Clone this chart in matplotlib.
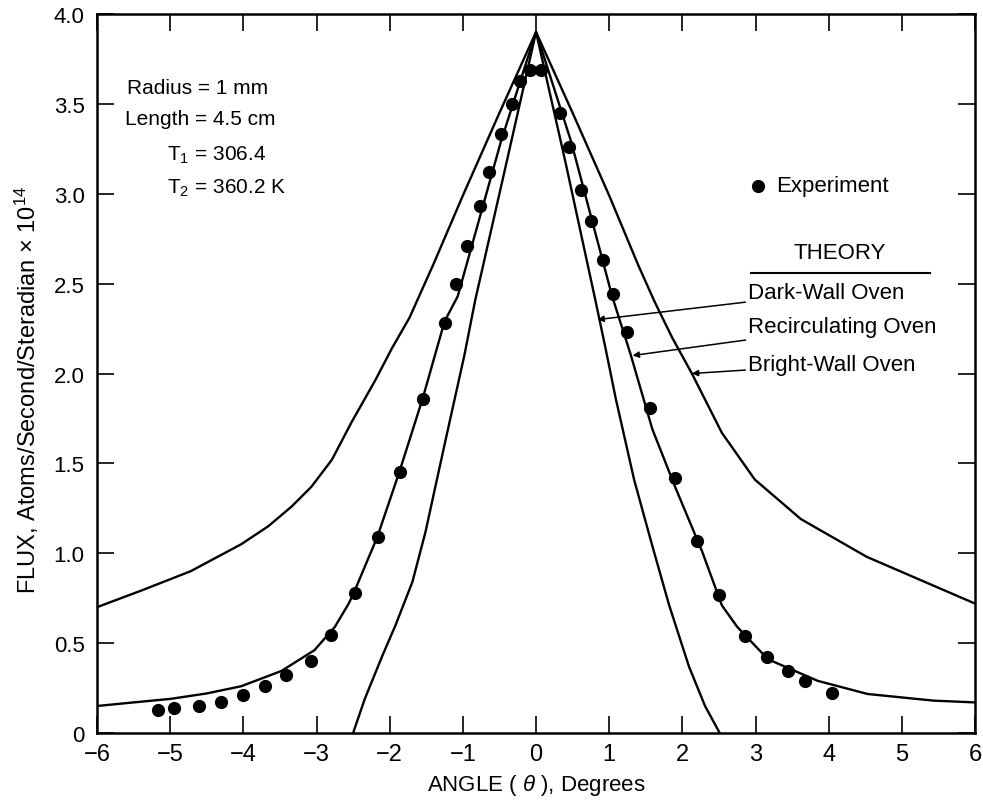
import numpy as np
import matplotlib
matplotlib.use('Agg')
import matplotlib.pyplot as plt

plt.rcParams['font.family'] = ['Liberation Sans', 'DejaVu Sans']
plt.rcParams['mathtext.fontset'] = 'custom'
plt.rcParams['mathtext.it'] = 'Liberation Sans:italic'
plt.rcParams['mathtext.rm'] = 'Liberation Sans'

# Experimental points (angle in degrees, flux x 1e14)
exp_x = [-5.16, -4.95, -4.61, -4.31, -4.00, -3.71, -3.42, -3.08, -2.80, -2.48,
         -2.16, -1.86, -1.54, -1.24, -1.09, -0.95, -0.76, -0.64, -0.48, -0.33,
         -0.22, -0.08, 0.07, 0.33, 0.45, 0.62, 0.75, 0.92, 1.05, 1.24,
         1.56, 1.90, 2.20, 2.50, 2.85, 3.15, 3.45, 3.67, 4.05]
exp_y = [0.13, 0.14, 0.15, 0.17, 0.21, 0.26, 0.32, 0.40, 0.545, 0.78,
         1.09, 1.45, 1.86, 2.28, 2.50, 2.71, 2.93, 3.12, 3.33, 3.50,
         3.63, 3.69, 3.69, 3.45, 3.26, 3.02, 2.85, 2.63, 2.44, 2.23,
         1.81, 1.42, 1.07, 0.77, 0.54, 0.42, 0.345, 0.29, 0.22]

# Theory curves
bright_x = [-6.0, -5.41, -4.72, -4.03, -3.66, -3.34, -3.07, -2.79, -2.52, -2.20, -1.97,
            -1.73, -1.40, -1.00, -0.50, 0.0,
            0.50, 1.00, 1.40, 1.62, 1.86, 2.13, 2.54, 2.99, 3.62, 4.52, 5.43, 6.0]
bright_y = [0.70, 0.79, 0.90, 1.05, 1.15, 1.26, 1.37, 1.52, 1.73, 1.96, 2.14,
            2.31, 2.61, 2.99, 3.45, 3.90,
            3.45, 2.99, 2.60, 2.40, 2.20, 2.00, 1.67, 1.41, 1.19, 0.98, 0.82, 0.72]

recirc_x = [-6.0, -5.5, -4.99, -4.5, -4.03, -3.48, -3.03, -2.75, -2.56, -2.49, -2.17, -1.87,
            -1.55, -1.25, -1.07, -0.48, 0.0,
            0.48, 1.04, 1.29, 1.59, 1.90, 2.27, 2.54, 2.75, 3.17, 3.85, 4.53, 5.43, 6.0]
recirc_y = [0.15, 0.17, 0.19, 0.22, 0.26, 0.345, 0.46, 0.59, 0.72, 0.78, 1.09, 1.45,
            1.86, 2.29, 2.43, 3.29, 3.90,
            3.29, 2.43, 2.11, 1.69, 1.37, 1.01, 0.71, 0.59, 0.41, 0.29, 0.217, 0.18, 0.17]

dark_x = [-2.50, -2.34, -2.10, -1.92, -1.69, -1.51, -1.36, -1.22, -1.10, -0.98, -0.83, -0.4, 0.0,
          0.4, 0.81, 0.95, 1.09, 1.34, 1.59, 1.82, 2.09, 2.31, 2.51]
dark_y = [0.0, 0.19, 0.43, 0.60, 0.84, 1.12, 1.40, 1.66, 1.88, 2.10, 2.41, 3.18, 3.90,
          3.18, 2.41, 2.14, 1.86, 1.41, 1.04, 0.71, 0.37, 0.15, 0.0]

fig = plt.figure(figsize=(9.83, 8.04), dpi=100)
ax = fig.add_axes([0.0987, 0.0871, 0.8932, 0.8942])

for cx, cy in [(bright_x, bright_y), (recirc_x, recirc_y), (dark_x, dark_y)]:
    ax.plot(cx, cy, color='black', lw=1.7, solid_joinstyle='round')
ax.plot(exp_x, exp_y, 'o', color='black', ms=8.5, zorder=5)

ax.set_xlim(-6, 6)
ax.set_ylim(0, 4.0)
ax.set_xticks(np.arange(-6, 7, 1))
ax.set_yticks(np.arange(0, 4.01, 0.5))
ax.set_yticklabels(['0', '0.5', '1.0', '1.5', '2.0', '2.5', '3.0', '3.5', '4.0'])
ax.tick_params(direction='in', length=12, width=1.2, top=True, right=True)
ax.tick_params(axis='x', labelsize=17, pad=7)
ax.tick_params(axis='y', labelsize=16, pad=9)
for s in ax.spines.values():
    s.set_linewidth(1.8)

ax.set_xlabel(r'ANGLE ( $\it{\theta}$ ), Degrees', fontsize=16, labelpad=5)
ax.set_ylabel(r'FLUX, Atoms/Second/Steradian $\times$ 10$^{14}$', fontsize=17)
ax.yaxis.set_label_coords(-0.064, 0.478)

# parameter block
tk = dict(transform=ax.transAxes, fontsize=15, va='center', ha='left')
ax.text(0.034, 0.898, 'Radius = 1 mm', **tk)
ax.text(0.032, 0.854, 'Length = 4.5 cm', **tk)
ax.text(0.080, 0.805, r'T$_1$ = 306.4', **tk)
ax.text(0.080, 0.759, r'T$_2$ = 360.2 K', **tk)

# legend block
ax.plot([0.753], [0.761], 'o', color='black', ms=8.5, transform=ax.transAxes)
ax.text(0.774, 0.761, 'Experiment', transform=ax.transAxes, fontsize=16, va='center', ha='left')
ax.text(0.846, 0.668, 'THEORY', transform=ax.transAxes, fontsize=16, va='center', ha='center')
ax.plot([0.745, 0.949], [0.640, 0.640], color='black', lw=1.5, transform=ax.transAxes)

labels = ['Dark-Wall Oven', 'Recirculating Oven', 'Bright-Wall Oven']
label_y = [2.45, 2.26, 2.05]
tips = [(0.84, 2.30), (1.32, 2.10), (2.13, 2.00)]
for lab, ly, tip in zip(labels, label_y, tips):
    ax.annotate(lab, xy=tip, xytext=(2.90, ly), fontsize=16, va='center', ha='left',
                arrowprops=dict(arrowstyle='-|>', color='black', lw=1.1,
                                mutation_scale=9, shrinkA=0, shrinkB=0))

fig.savefig('out.png', dpi=100)
